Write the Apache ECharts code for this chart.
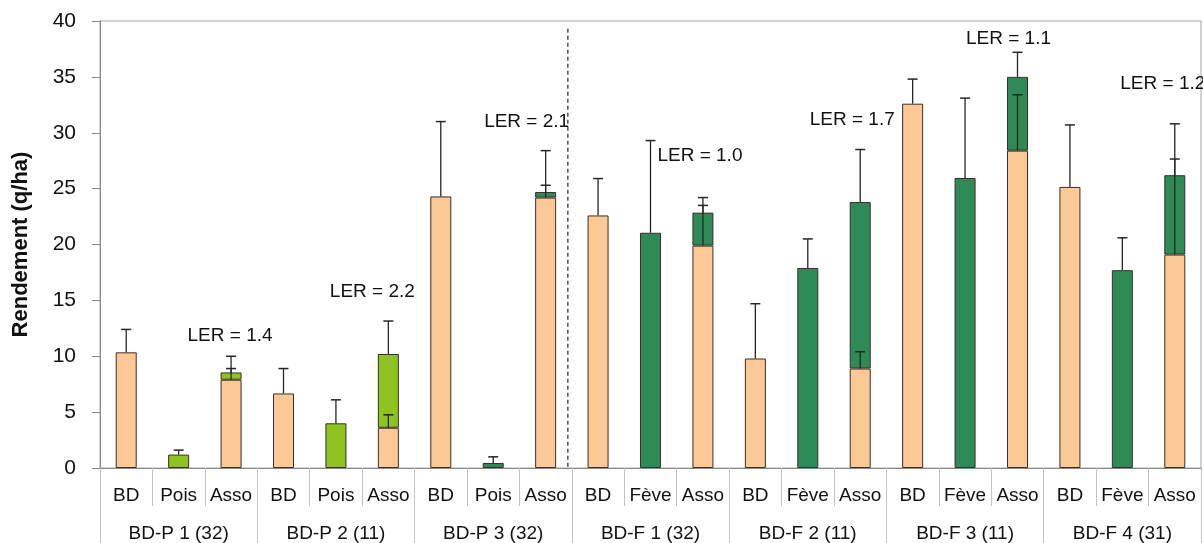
<!DOCTYPE html>
<html>
<head>
<meta charset="utf-8">
<script src="https://cdn.jsdelivr.net/npm/echarts@6/dist/echarts.min.js"></script>
<style>
html,body{margin:0;padding:0;background:#fff;}
#c{width:1203px;height:543px;}
</style>
</head>
<body>
<div id="c"></div>
<script>
// ---------- data ----------
const categories = ['BD','Pois','Asso','BD','Pois','Asso','BD','Pois','Asso',
                    'BD','Fève','Asso','BD','Fève','Asso','BD','Fève','Asso','BD','Fève','Asso'];
const groups = ['BD-P 1 (32)','BD-P 2 (11)','BD-P 3 (32)','BD-F 1 (32)','BD-F 2 (11)','BD-F 3 (11)','BD-F 4 (31)'];
const yTicks = [0,5,10,15,20,25,30,35,40];

// wheat (BD) yield, alone or as part of the mixture
const wheat = [10.35,null,7.9, 6.67,null,3.6, 24.3,null,24.2,
               22.6,null,19.9, 9.8,null,8.9, 32.6,null,28.4, 25.15,null,19.1];
// pea yield (light green)
const pea   = [null,1.2,0.65, null,4.0,6.6, null,null,null,
               null,null,null, null,null,null, null,null,null, null,null,null];
// faba bean yield (dark green)
const faba  = [null,null,null, null,null,null, null,0.45,0.5,
               null,21.05,2.95, null,17.9,14.9, null,25.95,6.6, null,17.7,7.1];
// top of the error bar of the whole bar
const errTotal = [12.4,1.6,10.0, 8.9,6.1,13.15, 31.0,1.0,28.4,
                  25.9,29.3,24.2, 14.7,20.5,28.5, 34.8,33.1,37.2, 30.7,20.6,30.8];
// top of the error bar of the wheat part inside the mixtures
const errWheatMix = [null,null,8.9, null,null,4.76, null,null,25.3,
                     null,null,23.5, null,null,10.4, null,null,33.4, null,null,27.65];
// LER annotations
const lerText = ['LER = 1.4','LER = 2.2','LER = 2.1','LER = 1.0','LER = 1.7','LER = 1.1','LER = 1.2'];
const lerCat  = [2,5,8,11,14,17,20];
const lerY    = [11.85,15.8,31.0,27.97,31.2,38.45,34.4];

// ---------- layout / style ----------
const FONT = 'Liberation Sans, Arial, sans-serif';
const lerNudge = [-1,-16,-19,-3,-8,-9,-12];
const dividerAfter = 8;   // dashed line between index 8 and 9
const dividerTop = 39.3;

const errData = [];
categories.forEach((c,i)=>{
  const base = (wheat[i]||0)+(pea[i]||0)+(faba[i]||0);
  if (errTotal[i]!=null) errData.push([i, base, errTotal[i]]);
  if (errWheatMix[i]!=null) errData.push([i, wheat[i], errWheatMix[i]]);
});
const lerData = lerText.map((t,k)=>[lerCat[k], lerY[k], k]);

const barStyle = (color)=>({color:color, borderColor:'#3a2e26', borderWidth:1});

const option = {
  animation:false,
  backgroundColor:'#fff',
  grid:{left:100, right:2, top:21, bottom:74, show:true, borderColor:'#a6a6a6', borderWidth:1},
  xAxis:[
    {type:'category', data:categories, position:'bottom',
     axisLine:{show:true, lineStyle:{color:'#8a8a8a', width:1}},
     axisTick:{show:true, interval:0, length:38, lineStyle:{color:'#c4c4c4'}},
     axisLabel:{interval:0, margin:18, fontSize:19, color:'#111', fontFamily:FONT}},
    {type:'category', data:groups, position:'bottom', offset:0,
     axisLine:{show:false},
     axisTick:{show:true, interval:0, length:76, lineStyle:{color:'#c4c4c4'}},
     axisLabel:{interval:0, margin:56, fontSize:19, color:'#111', fontFamily:FONT}}
  ],
  yAxis:{type:'value', min:yTicks[0], max:yTicks[yTicks.length-1], interval:5,
    name:'Rendement (q/ha)', nameLocation:'middle', nameGap:68, nameRotate:90,
    nameTextStyle:{fontSize:22, fontWeight:'bold', color:'#111', fontFamily:FONT},
    axisLine:{show:true, lineStyle:{color:'#8a8a8a'}},
    axisTick:{show:true, length:8, lineStyle:{color:'#8a8a8a'}},
    splitLine:{show:false},
    axisLabel:{fontSize:21, color:'#111', margin:24, fontFamily:FONT}},
  series:[
    {name:'BD', type:'bar', stack:'y', data:wheat, barWidth:21, itemStyle:barStyle('#FCC996')},
    {name:'Pois', type:'bar', stack:'y', data:pea, barWidth:21, itemStyle:barStyle('#8FC31F')},
    {name:'Fève', type:'bar', stack:'y', data:faba, barWidth:21, itemStyle:barStyle('#2E8B57')},
    {type:'custom', z:5, data:errData, encode:{x:0, y:[1,2]},
     renderItem:(params, api)=>{
       const x = api.value(0);
       const p0 = api.coord([x, api.value(1)]);
       const p1 = api.coord([x, api.value(2)]);
       return {type:'group', children:[
         {type:'line', shape:{x1:p0[0], y1:p0[1], x2:p1[0], y2:p1[1]}, style:{stroke:'#262626', lineWidth:1.3}},
         {type:'line', shape:{x1:p1[0]-5, y1:p1[1], x2:p1[0]+5, y2:p1[1]}, style:{stroke:'#262626', lineWidth:1.5}}
       ]};
     }},
    {type:'custom', z:6, data:lerData, encode:{x:0, y:1},
     renderItem:(params, api)=>{
       const p = api.coord([api.value(0), api.value(1)]);
       const k = api.value(2);
       return {type:'text', x:p[0]+lerNudge[k], y:p[1],
         style:{text:lerText[k], fontSize:19, fontFamily:FONT, fill:'#111', align:'center', verticalAlign:'middle'}};
     }},
    {type:'custom', z:4, data:[[dividerAfter, dividerTop]], encode:{x:0, y:1},
     renderItem:(params, api)=>{
       const a = api.coord([api.value(0), api.value(1)]);
       const b = api.coord([api.value(0)+1, 0]);
       const x = (a[0]+b[0])/2 - 4;
       return {type:'line', shape:{x1:x, y1:a[1], x2:x, y2:b[1]+2},
         style:{stroke:'#333', lineWidth:1.3, lineDash:[4,3]}};
     }}
  ]
};
const chart = echarts.init(document.getElementById('c'), null, {renderer:'canvas'});
chart.setOption(option);
</script>
</body>
</html>
